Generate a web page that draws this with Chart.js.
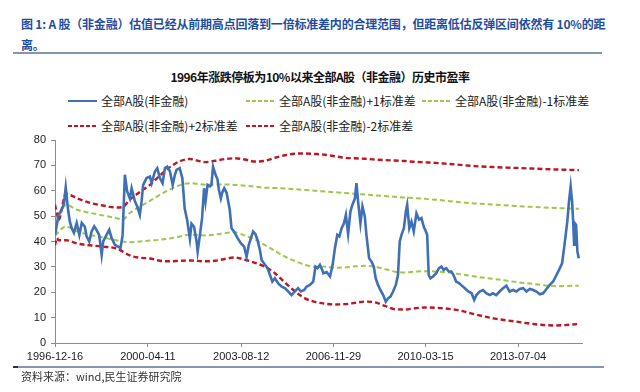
<!DOCTYPE html>
<html>
<head>
<meta charset="utf-8">
<script src="https://cdn.jsdelivr.net/npm/chart.js@4.4.1/dist/chart.umd.min.js"></script>
<style>
  body { margin: 0; width: 640px; height: 392px; position: relative; background: #fff; overflow: hidden; font-family: 'Noto Sans CJK SC', sans-serif; }
  .abs { position: absolute; white-space: nowrap; }
  #caption { left: 21px; top: 13px; font-size: 12px; font-weight: bold; color: #1f4e9e; line-height: 21px; letter-spacing: -0.2px; }
  #title { left: 0; width: 640px; top: 68px; text-align: center; font-size: 12px; font-weight: bold; color: #111; letter-spacing: -0.5px; line-height: 17px; }
  .rule { position: absolute; background: #8497b0; }
  #source { left: 21px; top: 369px; font-size: 11px; color: #333; line-height: 15px; }
  .leg { position: absolute; font-size: 12px; color: #1a1a1a; line-height: 16px; display: flex; align-items: center; }
  .leg svg { margin-right: 4px; }
  canvas { position: absolute; left: 0; top: 0; }
</style>
</head>
<body>
<div id="caption" class="abs">图 1: A 股（非金融）估值已经从前期高点回落到一倍标准差内的合理范围，但距离低估反弹区间依然有 10%的距<br>离。</div>
<div class="rule" style="left:13px;top:52px;width:589px;height:2px"></div>
<div id="title" class="abs">1996年涨跌停板为10%以来全部A股（非金融）历史市盈率</div>
<div id="legend"></div>
<canvas id="chart_pe" width="640" height="392"></canvas>
<div class="rule" style="left:13px;top:366px;width:591px;height:1.5px"></div>
<div class="rule" style="left:13px;top:365.5px;width:5px;height:2px;background:#333"></div>
<div id="source" class="abs">资料来源：wind,民生证券研究院</div>
<script>
// x axis ticks
const tickDates = ['1996-12-16', '2000-04-11', '2003-08-12', '2006-11-29', '2010-03-15', '2013-07-04'];
const axisStart = '1996-12-16';
const axisEnd = '2015-10-17';

// 全部A股(非金融) PE
const peDates = [
    '1996-12-16', '1997-01-08', '1997-01-30', '1997-03-14', '1997-04-12', '1997-05-05', '1997-05-26', '1997-06-08',
    '1997-06-28', '1997-07-20', '1997-08-20', '1997-09-25', '1997-10-30', '1997-11-30', '1998-01-10', '1998-02-01',
    '1998-03-08', '1998-04-08', '1998-05-12', '1998-06-10', '1998-07-15', '1998-08-17', '1998-09-06', '1998-10-20',
    '1998-11-24', '1998-12-24', '1999-02-06', '1999-03-20', '1999-04-20', '1999-05-18', '1999-06-16', '1999-07-16',
    '1999-08-20', '1999-09-12', '1999-10-25', '1999-11-24', '1999-12-28', '2000-01-20', '2000-02-10', '2000-03-25',
    '2000-05-08', '2000-05-30', '2000-07-12', '2000-08-12', '2000-09-15', '2000-10-20', '2000-11-20', '2000-12-20',
    '2001-01-25', '2001-03-01', '2001-03-30', '2001-04-20', '2001-06-01', '2001-07-05', '2001-08-05', '2001-09-05',
    '2001-10-12', '2001-11-02', '2001-12-05', '2002-01-07', '2002-01-21', '2002-02-20', '2002-03-20', '2002-04-15',
    '2002-05-04', '2002-05-30', '2002-06-30', '2002-07-20', '2002-08-10', '2002-09-12', '2002-10-08', '2002-10-25',
    '2002-11-20', '2002-12-08', '2003-01-03', '2003-02-03', '2003-02-24', '2003-03-16', '2003-04-08', '2003-05-12',
    '2003-06-25', '2003-08-07', '2003-09-20', '2003-10-22', '2003-11-20', '2003-12-25', '2004-01-15', '2004-02-15',
    '2004-03-12', '2004-04-12', '2004-05-05', '2004-06-18', '2004-07-22', '2004-08-22', '2004-09-22', '2004-10-25',
    '2004-12-08', '2005-01-22', '2005-03-05', '2005-04-18', '2005-06-01', '2005-07-12', '2005-08-25', '2005-09-30',
    '2005-11-12', '2005-12-12', '2006-01-25', '2006-03-10', '2006-04-08', '2006-05-05', '2006-06-05', '2006-07-05',
    '2006-07-20', '2006-09-01', '2006-10-15', '2006-11-18', '2006-12-18', '2007-01-18', '2007-02-14', '2007-03-15',
    '2007-04-15', '2007-05-10', '2007-06-08', '2007-07-08', '2007-08-02', '2007-09-05', '2007-09-25', '2007-10-16',
    '2007-11-16', '2007-12-12', '2008-01-12', '2008-02-02', '2008-03-08', '2008-04-08', '2008-05-08', '2008-06-02',
    '2008-07-02', '2008-08-02', '2008-09-08', '2008-10-12', '2008-11-10', '2008-12-12', '2009-01-15', '2009-02-20',
    '2009-03-20', '2009-04-12', '2009-05-05', '2009-06-05', '2009-07-01', '2009-07-18', '2009-08-15', '2009-09-12',
    '2009-10-12', '2009-11-16', '2009-12-20', '2010-01-20', '2010-02-20', '2010-03-18', '2010-04-05', '2010-04-25',
    '2010-05-18', '2010-06-20', '2010-08-02', '2010-09-06', '2010-10-08', '2010-11-06', '2010-12-10', '2011-01-12',
    '2011-02-14', '2011-03-15', '2011-04-18', '2011-05-30', '2011-06-20', '2011-08-10', '2011-09-24', '2011-11-06',
    '2011-12-10', '2012-01-08', '2012-02-20', '2012-04-02', '2012-05-15', '2012-06-30', '2012-08-10', '2012-09-22',
    '2012-11-05', '2012-12-20', '2013-02-01', '2013-03-15', '2013-05-01', '2013-06-12', '2013-07-25', '2013-09-08',
    '2013-10-22', '2013-12-05', '2014-01-18', '2014-03-01', '2014-04-15', '2014-05-28', '2014-07-10', '2014-08-22',
    '2014-10-05', '2014-11-18', '2015-01-01', '2015-01-30', '2015-02-25', '2015-03-18', '2015-04-08', '2015-04-30',
    '2015-05-22', '2015-06-10', '2015-06-24', '2015-07-06', '2015-07-15', '2015-08-01', '2015-08-18', '2015-09-05'
];
const peValues = [
    42.5, 46.5, 50.5, 52.5, 55, 61.3, 55, 51.8,
    47.8, 45.4, 43.4, 47.3, 42.6, 47.3, 45.8, 42,
    40, 44, 46, 44.6, 42.6, 34.7, 40, 42.6,
    44.6, 41.4, 38.7, 38, 37.4, 42.6, 66.3, 59.7,
    57, 61, 55.8, 53.8, 50.5, 55.8, 62.3, 65,
    65.6, 63, 67.6, 68.9, 65, 63, 68.9, 69.5,
    67.6, 62.3, 66.3, 68.2, 68.9, 65, 53, 48.6,
    41, 47, 45.8, 40, 36, 42.6, 49.3, 61,
    55.8, 62.3, 61.7, 62.3, 69.5, 66.3, 64.4, 60.4,
    57, 59.2, 61, 59.2, 55.8, 52.5, 45.2, 43.9,
    41.4, 39.3, 38, 34, 38.7, 42, 43.9, 42.9,
    40.6, 36.7, 32.7, 30.8, 29.5, 26.8, 24.2, 25.5,
    23.5, 22.2, 21.6, 20.3, 18.9, 20.3, 21.6, 20.3,
    20.9, 22.2, 22.9, 24.2, 30.1, 29.5, 30.8, 28.8,
    27.5, 28, 26.2, 30.8, 37.4, 42.6, 42, 45.2,
    47.2, 50.5, 43, 51.8, 54.4, 57, 63, 55.8,
    47.2, 53.8, 49.9, 42.6, 33.4, 32.1, 30.1, 25.5,
    22.9, 20.9, 18.9, 16.3, 17.6, 18.3, 20.3, 22.9,
    26.8, 40, 42.6, 45.2, 51.8, 54.4, 45.2, 47.8,
    44, 51.1, 48.6, 49.2, 45.8, 44, 42.6, 26.8,
    25.5, 26.2, 27.5, 29.5, 30.1, 28.8, 29.5, 28.2,
    28.2, 26.8, 24.2, 23.5, 22.9, 21.6, 20.3, 19.6,
    17, 18.9, 20.3, 20.9, 19.6, 18.9, 19.6, 18.9,
    20.3, 21.6, 22.6, 20.3, 20.9, 20.3, 21.3, 21.6,
    20.3, 21.3, 20.9, 20.3, 19.2, 19.6, 21.3, 22.9,
    24.2, 26.8, 29.5, 31.4, 37.4, 42.6, 47.8, 55.7,
    61.7, 55.7, 47.8, 38.7, 47.2, 46.5, 36, 33.4
];

// standard deviation bands
const bandDates = [
    '1996-12-16', '1997-01-11', '1997-01-30', '1997-05-08', '1997-10-01', '1998-03-18', '1998-09-02', '1999-03-03',
    '1999-05-20', '1999-08-20', '1999-12-30', '2000-05-08', '2000-09-16', '2001-01-24', '2001-06-05', '2001-10-13',
    '2002-04-26', '2002-09-04', '2003-01-12', '2003-05-22', '2003-09-30', '2004-02-08', '2004-06-18', '2004-10-26',
    '2005-03-06', '2005-07-15', '2005-11-22', '2006-04-01', '2006-08-10', '2006-12-18', '2007-04-27', '2007-09-06',
    '2008-01-15', '2008-05-25', '2008-10-02', '2009-02-10', '2009-06-20', '2009-10-28', '2010-03-08', '2010-07-16',
    '2010-11-24', '2011-06-08', '2011-12-19', '2012-09-06', '2013-05-25', '2014-02-10', '2014-10-30', '2015-09-06'
];
const plus1 = [
    44, 47, 49, 54.4, 52.5, 51.3, 50.3, 49.2,
    48.7, 51.2, 53.8, 56, 58.4, 60.5, 62.2, 63,
    62.4, 62.5, 62.5, 62.3, 62, 61.6, 61.2, 61.1,
    60.9, 60.6, 60.3, 60, 59.7, 59.4, 59.1, 58.8,
    58.5, 58.2, 57.9, 57.6, 57.3, 57.1, 56.8, 56.5,
    56.1, 55.5, 55, 54.5, 54, 53.6, 53.2, 52.9
];
const minus1 = [
    42.5, 43, 43.8, 45.9, 44, 42.6, 41.6, 40.4,
    40, 39.7, 40, 40.4, 40.7, 41.2, 42, 42.7,
    42.4, 42.7, 43.3, 43.6, 42.3, 40.8, 38.6, 36.3,
    34, 32.3, 30.8, 30, 30.1, 29.6, 29.8, 30.2,
    30.4, 30.1, 29.1, 28.1, 27.8, 28.1, 28.3, 28.2,
    27.9, 27.1, 26.2, 25.2, 24.1, 23.2, 22.4, 22.6
];
const plus2 = [
    54.5, 51, 48.5, 58.8, 57, 55.2, 54.2, 53.4,
    53.6, 56.5, 59.5, 62.3, 66, 69.3, 71.7, 72.5,
    71.3, 71.8, 72.5, 72.8, 72.3, 71.5, 71.8, 73,
    74, 74.6, 74.7, 74.5, 74.2, 73.6, 73, 72.8,
    72.6, 72.3, 72.1, 71.9, 71.7, 71.4, 71.2, 71,
    70.7, 70.2, 69.7, 69.3, 69, 68.7, 68.4, 68.1
];
const minus2 = [
    38.5, 41.4, 40.5, 40.5, 39.2, 38.5, 38, 37.2,
    36, 34.5, 33.6, 33.3, 32.4, 32.2, 32.4, 32.5,
    32.2, 32.4, 33.1, 33.7, 32.8, 31.6, 30, 27.5,
    23.8, 20.3, 17.6, 16.2, 15.5, 15.2, 15.3, 15.8,
    16.3, 16, 14.6, 13.3, 13.2, 13.7, 14, 13.9,
    13.6, 12.8, 11.3, 9.6, 8.5, 7.4, 6.9, 7.5
];

const toDay = (s) => {
    const [y, m, d] = s.split('-').map(Number);
    return Date.UTC(y, m - 1, d) / 864e5;
};
const pts = (dates, vals) => dates.map((d, i) => ({ x: toDay(d), y: vals[i] }));

const BLUE = '#3f6fb5';
const GREEN = '#9dc84b';
const RED = '#be1622';

const band = (label, vals, color, width) => ({
    label: label,
    data: pts(bandDates, vals),
    borderColor: color,
    backgroundColor: color,
    borderWidth: width,
    borderDash: [5, 3],
    cubicInterpolationMode: 'monotone',
    pointRadius: 0,
    order: 1
});

const datasets = [
    {
        label: '全部A股(非金融)',
        data: pts(peDates, peValues),
        borderColor: BLUE,
        backgroundColor: BLUE,
        borderWidth: 2.6,
        tension: 0,
        pointRadius: 0,
        order: 0
    },
    band('全部A股(非金融)+1标准差', plus1, GREEN, 2),
    band('全部A股(非金融)-1标准差', minus1, GREEN, 2),
    band('全部A股(非金融)+2标准差', plus2, RED, 2.4),
    band('全部A股(非金融)-2标准差', minus2, RED, 2.4)
];

const tickFont = { family: "'Liberation Sans', Arial, sans-serif", size: 11 };

const chart = new Chart(document.getElementById('chart_pe').getContext('2d'), {
    type: 'line',
    data: { datasets: datasets },
    options: {
        responsive: false,
        animation: false,
        layout: { padding: { top: 140, right: 58, left: 0, bottom: 0 } },
        plugins: { legend: { display: false }, tooltip: { enabled: false } },
        scales: {
            x: {
                type: 'linear',
                min: toDay(axisStart),
                max: toDay(axisEnd),
                afterBuildTicks: (scale) => {
                    scale.ticks = tickDates.map(d => ({ value: toDay(d) }));
                },
                afterFit: (scale) => { scale.height = 49; },
                ticks: {
                    autoSkip: false,
                    maxRotation: 0,
                    padding: 3,
                    color: '#1a1a1a',
                    font: tickFont,
                    callback: (v, i) => tickDates[i]
                },
                grid: { drawOnChartArea: false, tickLength: 4, color: '#8c8c8c' },
                border: { color: '#8c8c8c' }
            },
            y: {
                min: 0,
                max: 80,
                afterFit: (scale) => { scale.width = 55; },
                ticks: { stepSize: 10, padding: 5, color: '#1a1a1a', font: tickFont },
                grid: { drawOnChartArea: false, tickLength: 4, color: '#8c8c8c' },
                border: { color: '#8c8c8c' }
            }
        }
    }
});

// legend laid out in Excel-like columns
const legCols = [68, 246, 422];
const legRows = [92.5, 118];
const legend = document.getElementById('legend');
chart.data.datasets.forEach((ds, i) => {
    const item = document.createElement('div');
    item.className = 'leg';
    item.style.left = legCols[i % 3] + 'px';
    item.style.top = legRows[Math.floor(i / 3)] + 'px';
    const dash = ds.borderDash ? 'stroke-dasharray="4,2"' : '';
    item.innerHTML = '<svg width="29" height="6"><line x1="0" y1="3" x2="29" y2="3" stroke="' + ds.borderColor +
        '" stroke-width="2" ' + dash + '/></svg><span>' + ds.label + '</span>';
    legend.appendChild(item);
});
</script>
</body>
</html>
